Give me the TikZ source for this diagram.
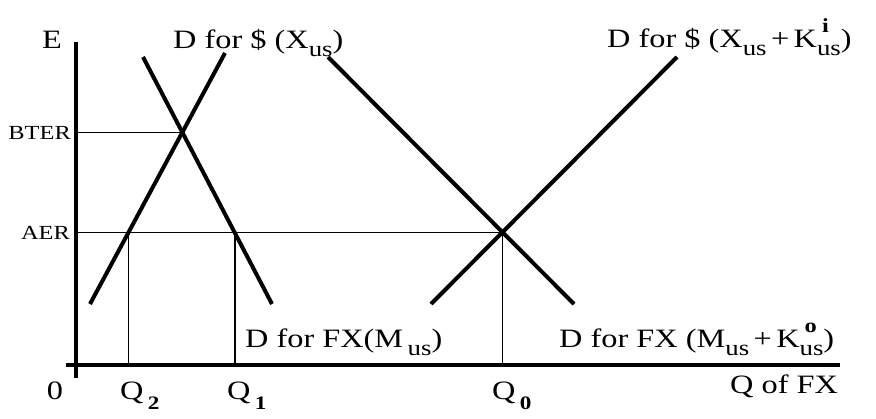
\documentclass[tikz,border=0pt]{standalone}
\usepackage{fontspec}
\setmainfont{Liberation Serif}[FakeStretch=1.22]
\usepackage{tikz}

\newcommand{\lowtxt}[1]{\raisebox{-0.32em}{\fontsize{22}{22}\selectfont #1}}
\newcommand{\lowhigh}[2]{\rlap{\raisebox{0.55em}{\fontsize{20}{20}\selectfont\hspace{0.25em}\textbf{#2}}}\lowtxt{#1}}
\newcommand{\qsub}[1]{\,\raisebox{-0.4em}{\fontsize{19}{19}\selectfont\textbf{#1}}}

\begin{document}
\begin{tikzpicture}[x=1pt, y=-1pt, line cap=butt, line join=round,
  curve/.style={line width=4.0pt},
  axis/.style={line width=4.0pt},
  guide/.style={line width=1.2pt},
  lbl/.style={inner sep=0pt, font=\fontsize{26.5}{31}\selectfont},
  small/.style={inner sep=0pt, font=\fontsize{20}{24}\selectfont}]

  %% ════ 坐标轴 ════
  \coordinate (ytop) at (76,42);
  \coordinate (ybot) at (76,378);
  \coordinate (xl) at (66,365);
  \coordinate (xr) at (840,365);
  \draw[axis] (ybot) -- (ytop);
  \draw[axis] (xl) -- (xr);

  %% ════ 四条需求线的端点 ════
  \coordinate (xa) at (90,304);   \coordinate (xb) at (225,53);
  \coordinate (ma) at (143,57);   \coordinate (mb) at (272,304);
  \coordinate (ka) at (431,304);  \coordinate (kb) at (677,57);
  \coordinate (na) at (328,57);   \coordinate (nb) at (574,304);

  \draw[curve] (xa) -- (xb);
  \draw[curve] (ma) -- (mb);
  \draw[curve] (ka) -- (kb);
  \draw[curve] (na) -- (nb);

  %% ════ 交点与辅助线 ════
  \coordinate (bter) at (intersection of xa--xb and ma--mb);
  \coordinate (aer)  at (intersection of ka--kb and na--nb);
  \coordinate (q2) at (intersection of xa--xb and 76,233--800,233);
  \coordinate (q1) at (intersection of ma--mb and 76,233--800,233);

  \draw[guide] (bter -| ytop) -- (bter);
  \draw[guide] (aer -| ytop) -- (aer);
  \draw[guide] (q2) -- (q2 |- xl);
  \draw[guide] (q1) -- (q1 |- xl);
  \draw[guide] (aer) -- (aer |- xl);

  %% ════ 标签 ════
  \node[lbl] (lE) at (52,40) {E};
  \node[lbl, anchor=base west] (lX) at (173,48) {D for \$ (X\lowtxt{us})};
  \node[lbl, anchor=base west] (lXK) at (607,47) {D for \$ (X\lowtxt{us}\,+\,K\lowhigh{us}{i})};
  \node[small, anchor=east] (lB) at (71,133) {BTER};
  \node[small, anchor=east] (lA) at (70,233) {AER};
  \node[lbl, anchor=base west] (lM) at (245,347) {D for FX(M\,\lowtxt{us})};
  \node[lbl, anchor=base west] (lMK) at (559,347) {D for FX (M\lowtxt{us}\,+\,K\lowhigh{us}{o})};
  \node[lbl, anchor=base] (l0) at (55,399) {0};
  \node[lbl, anchor=base west] (lQ2) at (120,399) {Q\qsub{2}};
  \node[lbl, anchor=base west] (lQ1) at (227,399) {Q\qsub{1}};
  \node[lbl, anchor=base west] (lQ0) at (492,399) {Q\qsub{0}};
  \node[lbl, anchor=base west] (lQ) at (730,393) {Q of FX};

  \pgfresetboundingbox
  \path[use as bounding box] (0,0) rectangle (876,418);
\end{tikzpicture}
\end{document}
